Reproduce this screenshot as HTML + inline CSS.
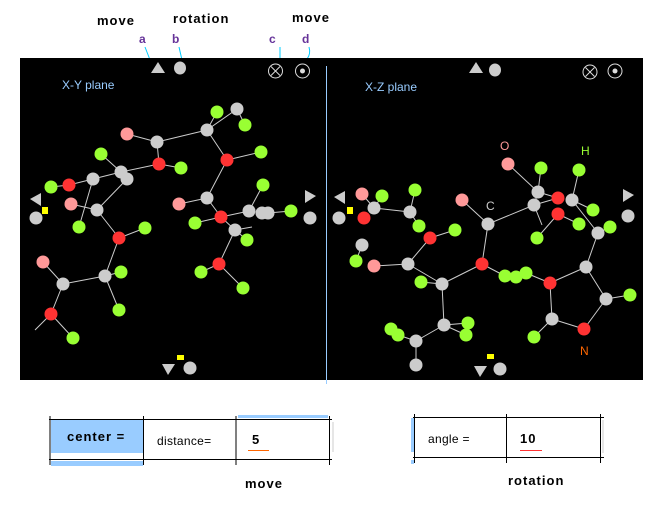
<!DOCTYPE html>
<html><head><meta charset="utf-8"><style>
html,body{margin:0;padding:0;background:#fff;width:663px;height:507px;overflow:hidden}
svg{display:block}
text{font-family:"Liberation Sans","DejaVu Sans",sans-serif}
.b{font-size:13px;font-weight:bold;letter-spacing:1px}
</style></head><body>
<svg width="663" height="507" viewBox="0 0 663 507" xmlns="http://www.w3.org/2000/svg">
<rect x="0" y="0" width="663" height="507" fill="#fff"/>
<!-- top labels -->
<text x="97" y="25" class="b" fill="#000">move</text>
<text x="173" y="23" class="b" fill="#000">rotation</text>
<text x="292" y="22" class="b" fill="#000">move</text>
<text x="139" y="43" font-size="12" font-weight="bold" fill="#663399">a</text>
<text x="172" y="43" font-size="12" font-weight="bold" fill="#663399">b</text>
<text x="269" y="43" font-size="12" font-weight="bold" fill="#663399">c</text>
<text x="302" y="43" font-size="12" font-weight="bold" fill="#663399">d</text>
<g stroke="#00ccff" stroke-width="1" fill="none">
<line x1="145" y1="47" x2="152" y2="65"/>
<line x1="179" y1="47" x2="182" y2="60"/>
<line x1="280" y1="47" x2="280" y2="59"/>
<path d="M309 47 Q311 54 307 59"/>
</g>
<!-- black panel -->
<rect x="20" y="58" width="623" height="322" fill="#000"/>
<line x1="326.5" y1="66" x2="326.5" y2="384" stroke="#99ccff" stroke-width="1"/>
<!-- panel icons -->
<g fill="#ccc">
<polygon points="158,62 151,73 165,73"/>
<ellipse cx="180" cy="68" rx="6" ry="6.5"/>
<polygon points="476,62 469,73 483,73"/>
<ellipse cx="495" cy="70" rx="6" ry="6.5"/>
<polygon points="30,199 41,193 41,206"/>
<polygon points="316,196 305,190 305,203"/>
<polygon points="162,364 175,364 168,375"/>
<polygon points="334,197 345,191 345,204"/>
<polygon points="634,195 623,189 623,202"/>
<polygon points="474,366 487,366 480,377"/>
<circle cx="36" cy="218" r="6.5"/><circle cx="310" cy="218" r="6.5"/><circle cx="190" cy="368" r="6.5"/>
<circle cx="339" cy="218" r="6.5"/><circle cx="628" cy="216" r="6.5"/><circle cx="500" cy="369" r="6.5"/>
</g>
<g stroke="#ddd" fill="none" stroke-width="1">
<circle cx="275.5" cy="71" r="7"/><line x1="271" y1="66.5" x2="280" y2="75.5"/><line x1="280" y1="66.5" x2="271" y2="75.5"/>
<circle cx="302.5" cy="71" r="7"/>
<circle cx="590" cy="72" r="7"/><line x1="585.5" y1="67.5" x2="594.5" y2="76.5"/><line x1="594.5" y1="67.5" x2="585.5" y2="76.5"/>
<circle cx="615" cy="71" r="7"/>
</g>
<circle cx="302.5" cy="71" r="2.5" fill="#ddd"/><circle cx="615" cy="71" r="2.5" fill="#ddd"/>
<g fill="#ffff00">
<rect x="42" y="207" width="6" height="7"/><rect x="177" y="355" width="7" height="5"/>
<rect x="347" y="207" width="6" height="7"/><rect x="487" y="354" width="7" height="5"/>
</g>
<text x="62" y="89" font-size="12" fill="#99ccff">X-Y plane</text>
<text x="365" y="91" font-size="12" fill="#99ccff">X-Z plane</text>
<text x="500" y="150" font-size="12" fill="#ff9999">O</text>
<text x="581" y="155" font-size="12" fill="#99ff33">H</text>
<text x="486" y="210" font-size="12" fill="#ccc">C</text>
<text x="580" y="355" font-size="12" fill="#ff6600">N</text>
<!-- bonds -->
<g stroke="#ccc" stroke-width="1">
<path d="M217 112L207 130M237 109L207 130M237 109L245 125M207 130L157 142M207 130L227 160M227 160L261 152M127 134L157 142M157 142L159 164M159 164L181 168M159 164L121 172M101 154L121 172M121 172L93 179M93 179L69 185M69 185L51 187M93 179L79 227M127 179L97 210M71 204L97 210M97 210L119 238M119 238L145 228M119 238L105 276M105 276L121 272M105 276L119 310M105 276L63 284M63 284L43 262M63 284L51 314M51 314L73 338M51 314L35 330M227 160L207 198M207 198L179 204M207 198L221 217M221 217L195 223M221 217L249 211M249 211L263 185M268 213L291 211M221 217L235 230M235 230L252 227M235 230L247 240M235 230L219 264M219 264L201 272M219 264L243 288"/>
<path d="M508 164L538 192M541 168L538 192M538 192L558 198M534 205L558 198M534 205L538 192M534 205L488 224M534 205L542 225M558 214L537 238M558 214L579 224M572 200L579 170M572 200L593 210M572 200L598 233M598 233L610 227M598 233L586 267M586 267L550 283M586 267L606 299M606 299L630 295M606 299L584 329M584 329L552 319M552 319L550 283M552 319L534 337M550 283L526 273M462 200L488 224M488 224L482 264M482 264L505 276M482 264L442 284M442 284L421 282M442 284L408 264M408 264L374 266M408 264L430 238M430 238L455 230M442 284L444 325M444 325L468 323M444 325L466 335M444 325L416 341M416 341L398 335M416 341L416 365M374 208L410 212M410 212L415 190M410 212L419 226M362 194L374 208M382 196L374 208M362 245L356 261"/>
</g>
<!-- atoms -->
<g fill="#99ff33">
<circle cx="217" cy="112" r="6.5"/><circle cx="245" cy="125" r="6.5"/><circle cx="261" cy="152" r="6.5"/><circle cx="101" cy="154" r="6.5"/><circle cx="181" cy="168" r="6.5"/><circle cx="51" cy="187" r="6.5"/><circle cx="263" cy="185" r="6.5"/><circle cx="291" cy="211" r="6.5"/><circle cx="195" cy="223" r="6.5"/><circle cx="79" cy="227" r="6.5"/><circle cx="145" cy="228" r="6.5"/><circle cx="247" cy="240" r="6.5"/><circle cx="121" cy="272" r="6.5"/><circle cx="201" cy="272" r="6.5"/><circle cx="119" cy="310" r="6.5"/><circle cx="243" cy="288" r="6.5"/><circle cx="73" cy="338" r="6.5"/>
<circle cx="541" cy="168" r="6.5"/><circle cx="579" cy="170" r="6.5"/><circle cx="382" cy="196" r="6.5"/><circle cx="415" cy="190" r="6.5"/><circle cx="593" cy="210" r="6.5"/><circle cx="579" cy="224" r="6.5"/><circle cx="419" cy="226" r="6.5"/><circle cx="455" cy="230" r="6.5"/><circle cx="537" cy="238" r="6.5"/><circle cx="610" cy="227" r="6.5"/><circle cx="356" cy="261" r="6.5"/><circle cx="421" cy="282" r="6.5"/><circle cx="505" cy="276" r="6.5"/><circle cx="516" cy="277" r="6.5"/><circle cx="526" cy="273" r="6.5"/><circle cx="630" cy="295" r="6.5"/><circle cx="391" cy="329" r="6.5"/><circle cx="398" cy="335" r="6.5"/><circle cx="468" cy="323" r="6.5"/><circle cx="466" cy="335" r="6.5"/><circle cx="534" cy="337" r="6.5"/>
</g>
<g fill="#cccccc">
<circle cx="237" cy="109" r="6.5"/><circle cx="207" cy="130" r="6.5"/><circle cx="157" cy="142" r="6.5"/><circle cx="121" cy="172" r="6.5"/><circle cx="127" cy="179" r="6.5"/><circle cx="93" cy="179" r="6.5"/><circle cx="97" cy="210" r="6.5"/><circle cx="207" cy="198" r="6.5"/><circle cx="249" cy="211" r="6.5"/><circle cx="262" cy="213" r="6.5"/><circle cx="268" cy="213" r="6.5"/><circle cx="235" cy="230" r="6.5"/><circle cx="105" cy="276" r="6.5"/><circle cx="63" cy="284" r="6.5"/>
<circle cx="538" cy="192" r="6.5"/><circle cx="534" cy="205" r="6.5"/><circle cx="572" cy="200" r="6.5"/><circle cx="374" cy="208" r="6.5"/><circle cx="410" cy="212" r="6.5"/><circle cx="488" cy="224" r="6.5"/><circle cx="598" cy="233" r="6.5"/><circle cx="362" cy="245" r="6.5"/><circle cx="408" cy="264" r="6.5"/><circle cx="586" cy="267" r="6.5"/><circle cx="442" cy="284" r="6.5"/><circle cx="606" cy="299" r="6.5"/><circle cx="444" cy="325" r="6.5"/><circle cx="552" cy="319" r="6.5"/><circle cx="416" cy="341" r="6.5"/><circle cx="416" cy="365" r="6.5"/>
</g>
<g fill="#ff3333">
<circle cx="159" cy="164" r="6.5"/><circle cx="227" cy="160" r="6.5"/><circle cx="69" cy="185" r="6.5"/><circle cx="221" cy="217" r="6.5"/><circle cx="119" cy="238" r="6.5"/><circle cx="219" cy="264" r="6.5"/><circle cx="51" cy="314" r="6.5"/>
<circle cx="558" cy="198" r="6.5"/><circle cx="558" cy="214" r="6.5"/><circle cx="364" cy="218" r="6.5"/><circle cx="430" cy="238" r="6.5"/><circle cx="482" cy="264" r="6.5"/><circle cx="550" cy="283" r="6.5"/><circle cx="584" cy="329" r="6.5"/>
</g>
<g fill="#ff9999">
<circle cx="127" cy="134" r="6.5"/><circle cx="71" cy="204" r="6.5"/><circle cx="179" cy="204" r="6.5"/><circle cx="43" cy="262" r="6.5"/>
<circle cx="508" cy="164" r="6.5"/><circle cx="362" cy="194" r="6.5"/><circle cx="462" cy="200" r="6.5"/><circle cx="374" cy="266" r="6.5"/>
</g>
<!-- bottom left table -->
<rect x="51" y="420" width="92" height="33" fill="#99ccff"/>
<rect x="51" y="461" width="92" height="5" fill="#99ccff"/>
<rect x="238" y="415" width="90" height="3" fill="#99ccff"/>
<g stroke="#000" stroke-width="1">
<line x1="49" y1="419.5" x2="332" y2="419.5"/>
<line x1="49" y1="459.5" x2="332" y2="459.5"/>
<line x1="50" y1="416" x2="50" y2="465"/>
<line x1="143.5" y1="416" x2="143.5" y2="465"/>
<line x1="236" y1="416" x2="236" y2="465"/>
<line x1="329.5" y1="416" x2="329.5" y2="465"/>
</g>
<line x1="333" y1="422" x2="333" y2="452" stroke="#ccc"/>
<text x="67" y="441" class="b" fill="#000">center =</text>
<text x="157" y="445" font-size="12" letter-spacing="0.3" fill="#000">distance=</text>
<text x="252" y="444" font-size="13" font-weight="bold" fill="#000">5</text>
<line x1="248" y1="450.5" x2="269" y2="450.5" stroke="#ff6600"/>
<text x="245" y="488" class="b" fill="#000">move</text>
<!-- bottom right table -->
<rect x="411" y="418" width="3" height="34" fill="#99ccff"/>
<rect x="411" y="460" width="3" height="4" fill="#99ccff"/>
<g stroke="#000" stroke-width="1">
<line x1="413" y1="417.5" x2="604" y2="417.5"/>
<line x1="413" y1="457.5" x2="604" y2="457.5"/>
<line x1="414.5" y1="414" x2="414.5" y2="463"/>
<line x1="506.5" y1="414" x2="506.5" y2="463"/>
<line x1="600.5" y1="414" x2="600.5" y2="463"/>
</g>
<line x1="603" y1="420" x2="603" y2="453" stroke="#ccc"/>
<text x="428" y="443" font-size="12" letter-spacing="0.3" fill="#000">angle =</text>
<text x="520" y="443" class="b" fill="#000">10</text>
<line x1="520" y1="450.5" x2="542" y2="450.5" stroke="#ff3333"/>
<text x="508" y="485" class="b" fill="#000">rotation</text>
</svg>
</body></html>
